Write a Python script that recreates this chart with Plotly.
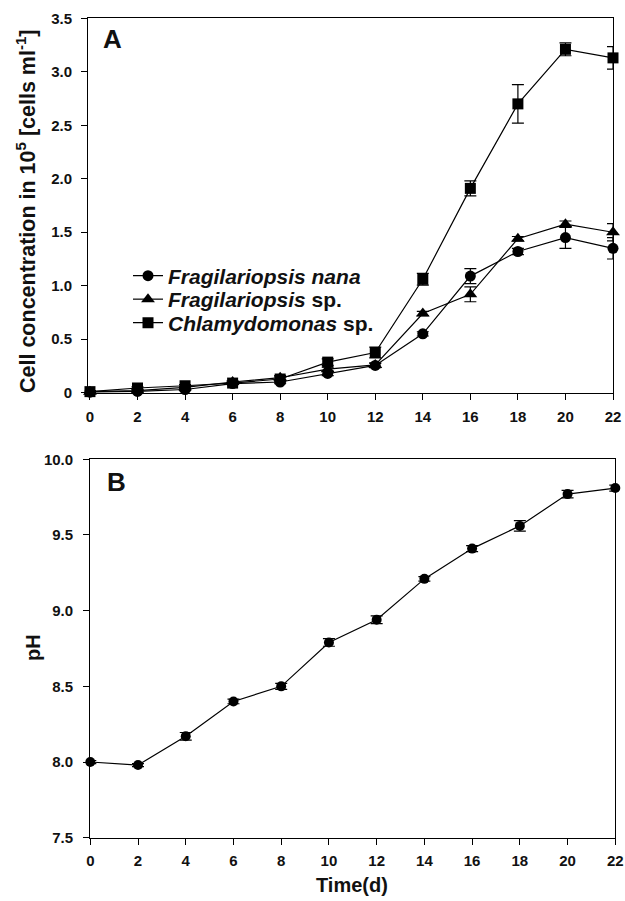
import plotly.graph_objects as go

# ---------------- data ----------------
days = [0, 2, 4, 6, 8, 10, 12, 14, 16, 18, 20, 22]

f_nana = [0.005, 0.012, 0.03, 0.085, 0.10, 0.18, 0.255, 0.55, 1.09, 1.32, 1.45, 1.35]
f_nana_err = [0.01, 0.01, 0.01, 0.01, 0.01, 0.02, 0.02, 0.02, 0.07, 0.03, 0.10, 0.10]

f_sp = [0.01, 0.02, 0.05, 0.10, 0.14, 0.22, 0.26, 0.74, 0.92, 1.44, 1.575, 1.50]
f_sp_err = [0.01, 0.01, 0.01, 0.01, 0.02, 0.02, 0.02, 0.02, 0.07, 0.02, 0.03, 0.08]

chlamy = [0.01, 0.044, 0.065, 0.09, 0.128, 0.286, 0.376, 1.06, 1.91, 2.70, 3.21, 3.13]
chlamy_err = [0.01, 0.01, 0.01, 0.01, 0.02, 0.03, 0.05, 0.055, 0.07, 0.18, 0.06, 0.105]

ph = [8.00, 7.98, 8.17, 8.40, 8.50, 8.79, 8.94, 9.21, 9.41, 9.56, 9.77, 9.81]
ph_err = [0.01, 0.01, 0.025, 0.015, 0.02, 0.025, 0.025, 0.015, 0.02, 0.035, 0.025, 0.02]

names = ["<i>Fragilariopsis nana</i>", "<i>Fragilariopsis</i> sp.", "<i>Chlamydomonas</i> sp."]

x_ticks = [0, 2, 4, 6, 8, 10, 12, 14, 16, 18, 20, 22]
ya_ticks = [0, 0.5, 1.0, 1.5, 2.0, 2.5, 3.0, 3.5]
ya_text = ["0", "0.5", "1.0", "1.5", "2.0", "2.5", "3.0", "3.5"]
yb_ticks = [7.5, 8.0, 8.5, 9.0, 9.5, 10.0]
yb_text = ["7.5", "8.0", "8.5", "9.0", "9.5", "10.0"]

W, H = 625, 901
FONT = "Liberation Sans, Arial, Helvetica, sans-serif"

fig = go.Figure()

series = [(f_nana, f_nana_err, "circle", 11, "legend"),
          (f_sp, f_sp_err, "triangle-up", 12, "legend2"),
          (chlamy, chlamy_err, "square", 11, "legend3")]
for (vals, errs, sym, sz, lg), nm in zip(series, names):
    fig.add_trace(go.Scatter(
        x=days, y=vals, name=nm, mode="lines+markers", legend=lg,
        line=dict(color="black", width=1.2),
        marker=dict(symbol=sym, size=sz, color="black"),
        error_y=dict(type="data", array=errs, visible=True, color="black",
                     thickness=1.2, width=6),
        cliponaxis=False, xaxis="x", yaxis="y"))

fig.add_trace(go.Scatter(
    x=days, y=ph, mode="lines+markers", showlegend=False,
    line=dict(color="black", width=1.2),
    marker=dict(symbol="circle", size=10, color="black"),
    error_y=dict(type="data", array=ph_err, visible=True, color="black",
                 thickness=1.2, width=6),
    cliponaxis=False, xaxis="x2", yaxis="y2"))

axis_common = dict(showline=True, linecolor="black", linewidth=1.3, mirror=True,
                   showgrid=False, zeroline=False, ticks="outside", ticklen=6,
                   tickwidth=1.2, tickcolor="black", automargin=False,
                   tickfont=dict(family=FONT, size=15, color="#111", weight="bold"))

legend_font = dict(family=FONT, size=21, color="#111", weight="bold")


def legend_at(y_px):
    return dict(x=128 / W, y=(H - y_px) / H, xanchor="left", yanchor="middle",
                bgcolor="rgba(0,0,0,0)", borderwidth=0, font=legend_font)


def note(text, x_px, y_px, size, angle=0):
    return dict(text=text, x=x_px / W, y=(H - y_px) / H, xref="paper", yref="paper",
                xanchor="center", yanchor="middle", textangle=angle, showarrow=False,
                font=dict(family=FONT, size=size, color="#111", weight="bold"))


fig.update_layout(
    width=W, height=H,
    margin=dict(l=0, r=0, t=0, b=0),
    paper_bgcolor="white", plot_bgcolor="white",
    font=dict(family=FONT, color="#111", weight="bold"),
    xaxis=dict(domain=[88.3 / W, 613 / W], range=[-0.07, 22],
               tickvals=x_ticks, anchor="y", ticklabelstandoff=4, **axis_common),
    yaxis=dict(domain=[(H - 392.7) / H, (H - 18.3) / H], range=[0, 3.5],
               tickvals=ya_ticks, ticktext=ya_text, anchor="x",
               ticklabelstandoff=6, **axis_common),
    xaxis2=dict(domain=[90.3 / W, 615.3 / W], range=[0, 22],
                tickvals=x_ticks, anchor="y2", ticklabelstandoff=3, **axis_common),
    yaxis2=dict(domain=[(H - 837.7) / H, (H - 459.3) / H], range=[7.5, 10],
                tickvals=yb_ticks, ticktext=yb_text, anchor="x2",
                ticklabelstandoff=7, **axis_common),
    legend=legend_at(276),
    legend2=legend_at(299.5),
    legend3=legend_at(323),
    annotations=[
        note("A", 112.5, 38.5, 26),
        note("B", 116.5, 482, 26),
        note("Cell concentration in 10<sup>5</sup> [cells ml<sup>-1</sup>]", 26, 212, 21.5, -90),
        note("pH", 33, 648, 20, -90),
        note("Time(d)", 352, 885, 20),
    ],
)

fig.write_html("out.html")
